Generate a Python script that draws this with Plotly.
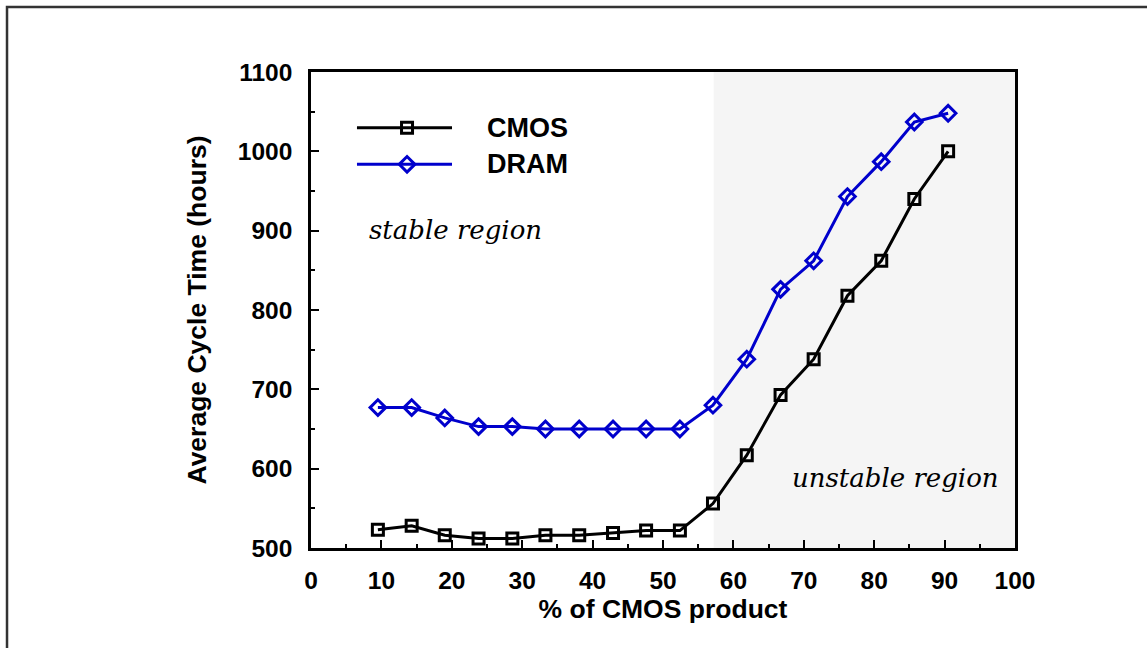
import plotly.graph_objects as go

# ---- data ----
pct_cmos = [9.5, 14.3, 19.0, 23.8, 28.6, 33.3, 38.1, 42.9, 47.6, 52.4,
            57.1, 61.9, 66.7, 71.4, 76.2, 81.0, 85.7, 90.5]
cmos_ct = [523, 528, 516, 512, 512, 516, 516, 519, 522, 522,
           556, 617, 693, 738, 818, 862, 940, 1000]
dram_ct = [677, 677, 664, 653, 653, 650, 650, 650, 650, 650,
           680, 738, 826, 862, 943, 987, 1037, 1048]
unstable_start = 57.2
x_range = [0, 100]
y_range = [500, 1100]

FONT = "Liberation Sans, Arial, sans-serif"
SERIF = "DejaVu Serif, serif"
BLUE = "#0000cc"

fig = go.Figure()

fig.add_trace(go.Scatter(
    x=pct_cmos, y=cmos_ct, name="CMOS", mode="lines+markers",
    line=dict(color="black", width=3),
    marker=dict(symbol="square-open", size=11, color="black", line=dict(width=3, color="black")),
    showlegend=False))
fig.add_trace(go.Scatter(
    x=pct_cmos, y=dram_ct, name="DRAM", mode="lines+markers",
    line=dict(color=BLUE, width=3),
    marker=dict(symbol="diamond-open", size=12, color=BLUE, line=dict(width=3, color=BLUE)),
    showlegend=False))

# custom legend samples on an overlay axis spanning the plot area (0..1)
leg_x = [0.0653, 0.1364, 0.2003]
for yy, col, sym, sz in [(0.883, "black", "square-open", 11), (0.806, BLUE, "diamond-open", 12)]:
    fig.add_trace(go.Scatter(
        x=leg_x, y=[yy] * 3, mode="lines+markers", xaxis="x2", yaxis="y2",
        line=dict(color=col, width=3),
        marker=dict(symbol=sym, size=sz, color=col, line=dict(width=3, color=col),
                    opacity=[0, 1, 0]),
        showlegend=False, hoverinfo="skip"))

fig.add_annotation(x=0.247, y=0.883, xref="paper", yref="paper", text="CMOS",
                   showarrow=False, xanchor="left", yanchor="middle",
                   font=dict(family=FONT, size=27, color="black", weight="bold"))
fig.add_annotation(x=0.247, y=0.806, xref="paper", yref="paper", text="DRAM",
                   showarrow=False, xanchor="left", yanchor="middle",
                   font=dict(family=FONT, size=27, color="black", weight="bold"))
fig.add_annotation(x=0.0795, y=0.668, xref="paper", yref="paper", text="stable region",
                   showarrow=False, xanchor="left", yanchor="middle",
                   font=dict(family=SERIF, size=26, color="black", style="italic"))
fig.add_annotation(x=0.980, y=0.147, xref="paper", yref="paper", text="unstable region",
                   showarrow=False, xanchor="right", yanchor="middle",
                   font=dict(family=SERIF, size=26, color="black", style="italic"))

# shaded unstable region
fig.add_shape(type="rect", xref="x", yref="y", x0=unstable_start, x1=x_range[1],
              y0=y_range[0], y1=y_range[1], fillcolor="#f5f5f5",
              line=dict(width=0), layer="below")
# outer frame
fig.add_shape(type="rect", xref="paper", yref="paper", x0=-0.4318, x1=1.25,
              y0=-0.26, y1=1.1366, line=dict(color="#333333", width=2.5),
              fillcolor="rgba(0,0,0,0)", layer="below")

tickfont = dict(family=FONT, size=24.5, color="black", weight="bold")
titlefont = dict(family=FONT, size=26.5, color="black", weight="bold")

fig.update_layout(
    width=1147, height=648,
    margin=dict(l=311, r=132, t=72, b=100),
    paper_bgcolor="white", plot_bgcolor="white",
    xaxis=dict(range=x_range, dtick=10, tick0=0, ticks="inside", ticklen=8, tickwidth=2,
               tickcolor="black", showline=True, linecolor="black", linewidth=2.5, mirror=True,
               showgrid=False, zeroline=False, tickfont=tickfont, ticklabelstandoff=9,
               minor=dict(dtick=5, ticks="inside", ticklen=4, tickwidth=2, tickcolor="black",
                          showgrid=False),
               title=dict(text="% of CMOS product", font=titlefont, standoff=3),
               automargin=False),
    yaxis=dict(range=y_range, dtick=100, tick0=500, ticks="inside", ticklen=8, tickwidth=2,
               tickcolor="black", showline=True, linecolor="black", linewidth=2.5, mirror=True,
               showgrid=False, zeroline=False, tickfont=tickfont, ticklabelstandoff=11,
               minor=dict(dtick=50, ticks="inside", ticklen=4, tickwidth=2, tickcolor="black",
                          showgrid=False),
               title=dict(text="Average Cycle Time (hours)", font=titlefont, standoff=24),
               automargin=False),
    xaxis2=dict(range=[0, 1], overlaying="x", visible=False, fixedrange=True),
    yaxis2=dict(range=[0, 1], overlaying="y", visible=False, fixedrange=True),
    showlegend=False,
)

fig.write_html("out.html")
